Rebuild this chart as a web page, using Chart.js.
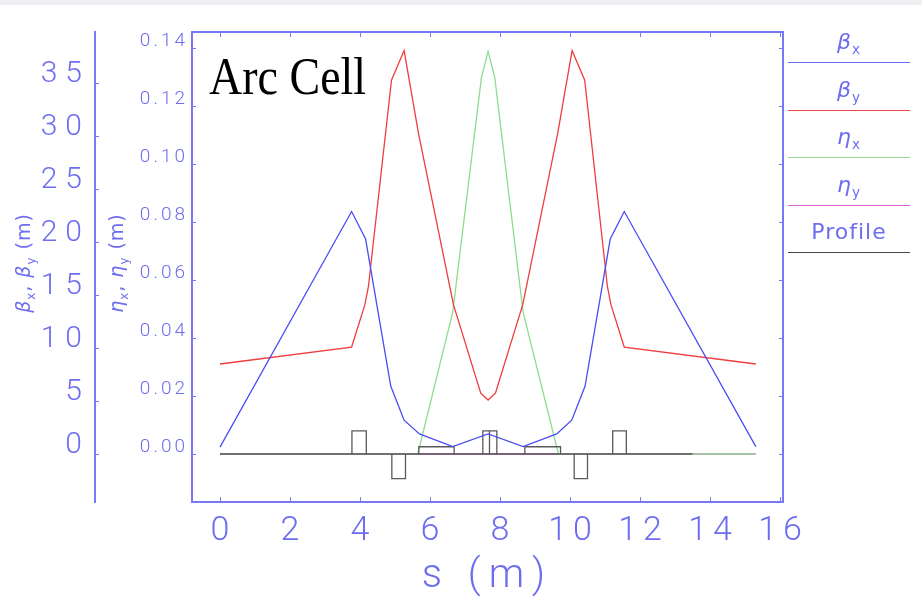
<!DOCTYPE html>
<html>
<head>
<meta charset="utf-8">
<script src="https://cdn.jsdelivr.net/npm/chart.js@4.4.1/dist/chart.umd.min.js"></script>
<style>
  body { margin: 0; background: #fff; }
  #wrap { position: relative; width: 922px; height: 606px; overflow: hidden; background: #fff; }
  #wrap::before { content: ''; position: absolute; left: 0; top: 0; right: 0; height: 5px; background: #eef0f3; }
  canvas { position: absolute; left: 0; top: 0; }
  .ttl { position: absolute; color: #6d6df0; font-family: 'DejaVu Sans', sans-serif; font-size: 19px;
         white-space: nowrap; transform: translate(-50%, -50%) rotate(-90deg); letter-spacing: 1px; }
  .ttl sub, .leg sub { font-size: 62%; vertical-align: -0.35em; }
  .gr { font-style: italic; }
  #title { position: absolute; left: 209px; top: 46px; font-family: 'Liberation Serif', serif; font-size: 46px;
           color: #000; transform: scaleY(1.15); transform-origin: left top; }
  .leg { position: absolute; left: 788px; width: 122px; text-align: center; color: #6d6df0;
         font-family: 'DejaVu Sans', sans-serif; font-size: 22px; letter-spacing: 1px; }
  .legline { position: absolute; left: 788px; width: 122px; height: 0; }
</style>
</head>
<body>
<div id="wrap">
  <canvas id="c" width="922" height="606"></canvas>
  <div id="title">Arc Cell</div>
  <div class="ttl" style="left:25px; top:263px"><span class="gr">β</span><sub>x</sub>, <span class="gr">β</span><sub>y</sub> (m)</div>
  <div class="ttl" style="left:118px; top:263px"><span class="gr">η</span><sub>x</sub>, <span class="gr">η</span><sub>y</sub> (m)</div>
</div>
<script>
// lattice functions, s in metres
const sBetaX = [0, 3.76, 4.16, 4.88, 5.26, 5.70, 6.65, 7.66, 8.66, 9.62, 10.05, 10.43, 11.15, 11.55, 15.31];
const betaX  = [0.65, 22.9, 20.3, 6.4, 3.2, 1.9, 0.7, 1.9, 0.7, 1.9, 3.2, 6.4, 20.3, 22.9, 0.7];

const sBetaY = [0, 3.76, 4.14, 4.24, 4.90, 5.26, 5.67, 6.67, 7.45, 7.66, 7.87, 8.65, 9.65, 10.06, 10.42, 11.07, 11.17, 11.55, 15.31];
const betaY  = [8.5, 10.1, 14.1, 15.8, 35.3, 38.1, 30.3, 14.1, 5.75, 5.1, 5.75, 14.1, 30.3, 38.1, 35.3, 15.8, 14.1, 10.1, 8.5];

const sEtaX = [0, 5.65, 6.65, 7.47, 7.66, 7.85, 8.66, 9.67, 15.31];
const etaX  = [0, 0, 0.049, 0.130, 0.139, 0.130, 0.049, 0, 0];

const sEtaY = [0, 15.31];
const etaY  = [0, 0];

// magnet boxes of the profile (schematic, drawn on the eta axis)
const magStart  = [3.77, 4.91, 5.68, 7.51, 7.70, 8.71, 10.12, 11.22];
const magEnd    = [4.18, 5.30, 6.69, 7.70, 7.91, 9.73, 10.50, 11.61];
const magHeight = [0.008, -0.0085, 0.0025, 0.008, 0.008, 0.0025, -0.0085, 0.008];
const profileEnd = 13.5;

const xTicks = [0, 2, 4, 6, 8, 10, 12, 14, 16];
const betaTicks = [0, 5, 10, 15, 20, 25, 30, 35];
const etaTicks = [0, 0.02, 0.04, 0.06, 0.08, 0.10, 0.12, 0.14];

const legendLabels = ['<span class="gr">β</span><sub>x</sub>', '<span class="gr">β</span><sub>y</sub>',
                      '<span class="gr">η</span><sub>x</sub>', '<span class="gr">η</span><sub>y</sub>', 'Profile'];

const axisColor = '#7878f4';
const tickColor = '#6d6df0';
const tickFont = "Roboto, 'Liberation Sans', sans-serif";
// wide hershey-like spacing of the axis numbers
const labelSpacing = { x: 6, yb: 8, ye: 3 };

const pts = (s, v) => s.map((x, i) => ({ x, y: v[i] }));

// closed rectangle for every magnet, baseline running through
const profile = [{ x: 0, y: 0 }];
magStart.forEach((a, i) => {
  const b = magEnd[i], h = magHeight[i];
  profile.push({ x: a, y: 0 }, { x: a, y: h }, { x: b, y: h }, { x: b, y: 0 }, { x: a, y: 0 });
});
profile.push({ x: profileEnd, y: 0 });

const series = [
  { label: 'βx', data: pts(sBetaX, betaX), borderColor: '#4c4cf6', yAxisID: 'yb', order: 0 },
  { label: 'βy', data: pts(sBetaY, betaY), borderColor: '#f03c3c', yAxisID: 'yb', order: 0 },
  { label: 'ηx', data: pts(sEtaX, etaX), borderColor: '#8fdc8f', yAxisID: 'ye', order: 2 },
  { label: 'ηy', data: pts(sEtaY, etaY), borderColor: '#d94fd9', yAxisID: 'ye', order: 3 },
  { label: 'Profile', data: profile, borderColor: '#5a5a5a', yAxisID: 'ye', order: 1 }
];
const legendLineColors = ['#6b6bf4', '#f04848', '#9ad89a', '#d860d8', '#444444'];

// letter spacing on the scale text
const spacing = {
  id: 'spacing',
  beforeDraw(chart) {
    Object.values(chart.scales).forEach(sc => {
      if (sc._spaced) return;
      const ls = (labelSpacing[sc.id] || 0) + 'px';
      const dl = sc.drawLabels.bind(sc);
      sc.drawLabels = area => { const c = sc.ctx; c.save(); c.letterSpacing = ls; dl(area); c.restore(); };
      const dt = sc.drawTitle.bind(sc);
      sc.drawTitle = area => { const c = sc.ctx; c.save(); c.letterSpacing = '8px'; dt(area); c.restore(); };
      sc._spaced = true;
    });
  }
};

// inward tick marks on all four sides plus top/right frame
const frameTicks = {
  id: 'frameTicks',
  afterDraw(chart) {
    const { ctx, chartArea: a, scales } = chart;
    ctx.save();
    ctx.strokeStyle = axisColor;
    ctx.lineWidth = 2;
    ctx.beginPath();
    ctx.moveTo(a.left, a.top); ctx.lineTo(a.right, a.top); ctx.lineTo(a.right, a.bottom);
    ctx.stroke();
    ctx.lineWidth = 1;
    ctx.beginPath();
    scales.x.ticks.forEach(t => {
      const px = Math.round(scales.x.getPixelForValue(t.value)) + 0.5;
      ctx.moveTo(px, a.bottom); ctx.lineTo(px, a.bottom - 5);
      ctx.moveTo(px, a.top); ctx.lineTo(px, a.top + 5);
    });
    scales.ye.ticks.forEach(t => {
      const py = Math.round(scales.ye.getPixelForValue(t.value)) + 0.5;
      ctx.moveTo(a.left, py); ctx.lineTo(a.left + 4, py);
      ctx.moveTo(a.right, py); ctx.lineTo(a.right - 4, py);
    });
    const yb = scales.yb;
    yb.ticks.forEach(t => {
      const py = Math.round(yb.getPixelForValue(t.value)) + 0.5;
      ctx.moveTo(yb.right, py); ctx.lineTo(yb.right + 4, py);
    });
    ctx.stroke();
    ctx.restore();
  }
};

const chart = new Chart(document.getElementById('c'), {
  type: 'line',
  data: {
    datasets: series.map(d => ({ ...d, borderWidth: 1.3, pointRadius: 0, tension: 0, fill: false }))
  },
  options: {
    responsive: false,
    animation: false,
    devicePixelRatio: 1,
    layout: { padding: { top: 32, right: 139, left: 0, bottom: 0 } },
    plugins: { legend: { display: false }, tooltip: { enabled: false } },
    scales: {
      x: {
        type: 'linear', min: -0.8, max: 16.086,
        afterBuildTicks: ax => { ax.ticks = xTicks.map(v => ({ value: v })); },
        afterFit: ax => { ax.height = 104; },
        grid: { display: false, drawTicks: false },
        border: { display: true, color: axisColor, width: 2 },
        ticks: { color: tickColor, font: { family: tickFont, size: 34, weight: '300' }, padding: 9,
                 labelOffset: 3, callback: v => String(v) },
        title: { display: true, text: 's (m)', color: tickColor, padding: { top: 0, bottom: 5 },
                 font: { family: tickFont, size: 40, weight: '300' } }
      },
      ye: {
        type: 'linear', position: 'left', weight: 0, min: -0.01657, max: 0.14567,
        afterBuildTicks: ax => { ax.ticks = etaTicks.map(v => ({ value: v })); },
        afterFit: ax => { ax.width = 97; },
        grid: { display: false, drawTicks: false },
        border: { display: true, color: axisColor, width: 2 },
        ticks: { color: tickColor, font: { family: tickFont, size: 19, weight: '300' }, padding: 4,
                 labelOffset: -7, callback: v => v.toFixed(2) }
      },
      yb: {
        type: 'linear', position: 'left', weight: 1, min: -4.53, max: 39.85,
        afterBuildTicks: ax => { ax.ticks = betaTicks.map(v => ({ value: v })); },
        afterFit: ax => { ax.width = 95; },
        grid: { display: false, drawTicks: false },
        border: { display: true, color: axisColor, width: 2 },
        ticks: { color: tickColor, font: { family: tickFont, size: 30, weight: '300' }, padding: 5,
                 labelOffset: -9, callback: v => String(v) }
      }
    }
  },
  plugins: [spacing, frameTicks]
});

// legend on the right: label above a short line in the series colour
const wrap = document.getElementById('wrap');
legendLabels.forEach((html, i) => {
  const lineY = 62 + i * 47.6;
  const t = document.createElement('div');
  t.className = 'leg';
  t.style.top = (lineY - 33) + 'px';
  t.innerHTML = html;
  wrap.appendChild(t);
  const l = document.createElement('div');
  l.className = 'legline';
  l.style.top = lineY + 'px';
  l.style.borderTop = '1.5px solid ' + legendLineColors[i];
  wrap.appendChild(l);
});
</script>
</body>
</html>
